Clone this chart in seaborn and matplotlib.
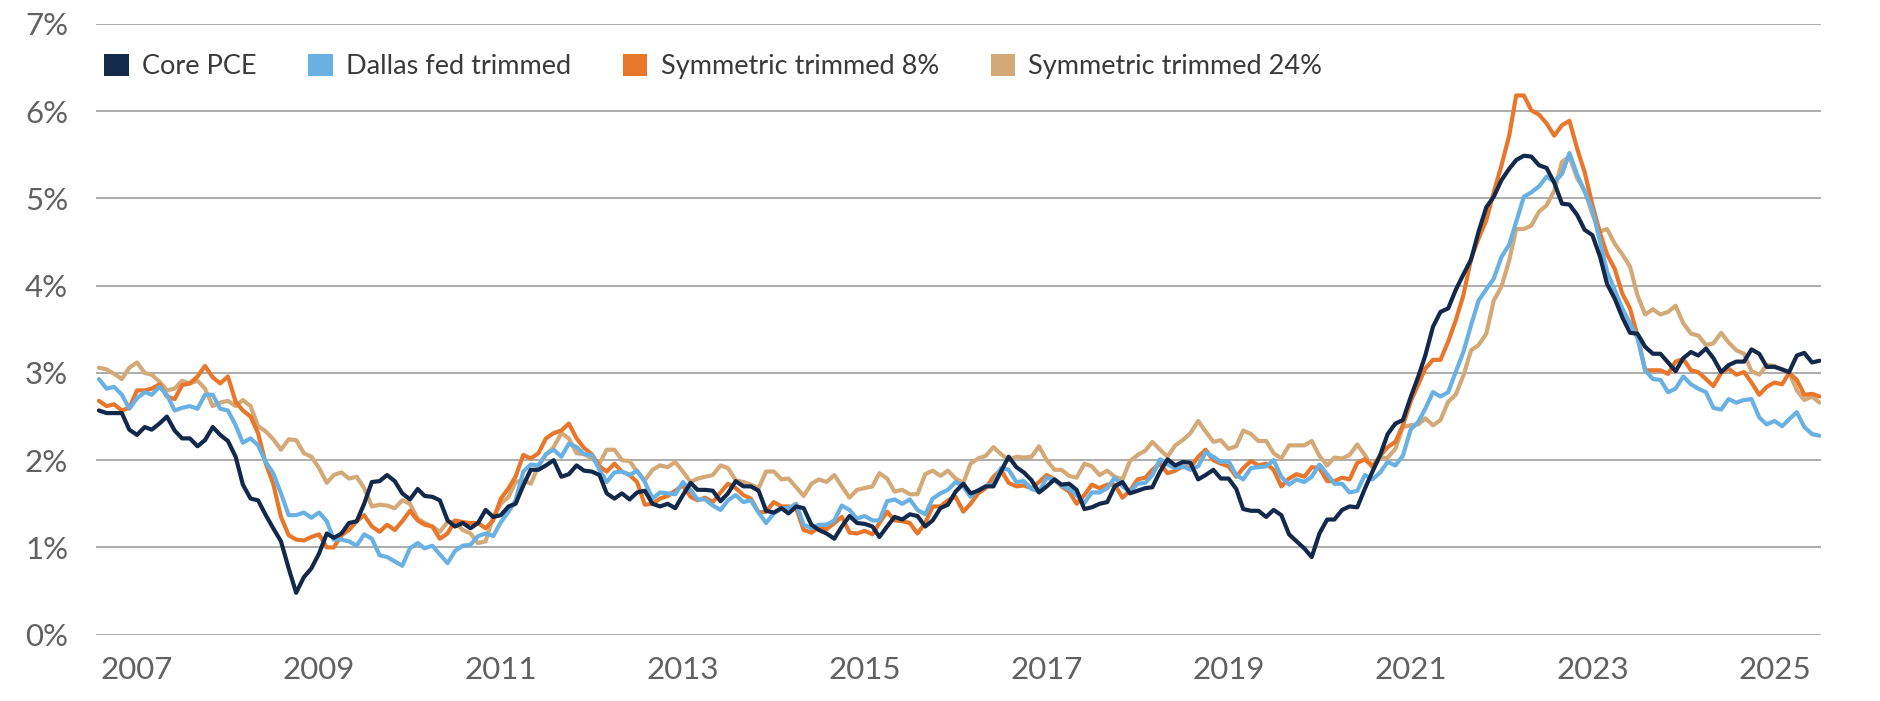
import numpy as np
import pandas as pd
import matplotlib
matplotlib.use("Agg")
import matplotlib.pyplot as plt
import seaborn as sns
from matplotlib.patches import Patch

# Monthly data, Aug 2006 .. Jul 2025 (values in %)
dates = pd.date_range("2006-08-01", periods=228, freq="MS")

core_pce = [
    2.57, 2.54, 2.54, 2.54, 2.35, 2.29, 2.38, 2.35, 2.42, 2.50, 2.34, 2.25, 2.25, 2.16, 2.23, 2.38, 2.29, 2.22, 2.04, 1.72,
    1.56, 1.54, 1.37, 1.22, 1.07, 0.76, 0.48, 0.66, 0.76, 0.93, 1.16, 1.11, 1.16, 1.28, 1.30, 1.50, 1.75, 1.76, 1.83, 1.76,
    1.62, 1.55,
    1.67, 1.59, 1.58, 1.54, 1.31, 1.24, 1.28, 1.22, 1.28, 1.43, 1.35, 1.37, 1.47, 1.50, 1.71, 1.89, 1.89, 1.94, 2.00, 1.81,
    1.84, 1.94, 1.88, 1.87, 1.83, 1.62, 1.56, 1.62, 1.55, 1.63, 1.65, 1.50, 1.47, 1.50, 1.45, 1.60, 1.74, 1.66, 1.66, 1.65,
    1.53, 1.62, 1.76, 1.70, 1.70, 1.65, 1.42, 1.40, 1.45, 1.39, 1.47, 1.45, 1.26, 1.20, 1.16, 1.10, 1.24, 1.36, 1.28, 1.27,
    1.24, 1.12, 1.24, 1.35, 1.32, 1.38, 1.36, 1.24, 1.31, 1.45, 1.49, 1.64, 1.73, 1.62, 1.65, 1.70, 1.70, 1.87, 2.04, 1.92,
    1.86, 1.77, 1.63, 1.70, 1.78, 1.72, 1.73, 1.66, 1.44, 1.46, 1.50, 1.52, 1.70, 1.75, 1.62, 1.65, 1.68, 1.69, 1.87, 2.01,
    1.94, 1.98, 1.97, 1.78, 1.83, 1.89, 1.79, 1.79, 1.67, 1.44, 1.42, 1.42, 1.35, 1.43, 1.37, 1.15, 1.07, 0.99, 0.89,
    1.16, 1.32, 1.32, 1.43, 1.47, 1.46, 1.67, 1.87, 2.06, 2.30, 2.42, 2.46, 2.72, 2.96, 3.20, 3.53, 3.70, 3.74, 3.95, 4.13,
    4.30, 4.62, 4.90, 5.02, 5.21, 5.34, 5.44, 5.49, 5.48, 5.38, 5.35, 5.18, 4.94, 4.93, 4.81,
    4.64, 4.58, 4.33, 4.02, 3.85, 3.64, 3.46, 3.45, 3.30, 3.22, 3.22, 3.12, 3.02, 3.17, 3.24, 3.20, 3.28, 3.17, 3.01, 3.09,
    3.13, 3.13, 3.27, 3.22, 3.07, 3.07, 3.04, 3.01, 3.20, 3.23, 3.12, 3.14,
]

dallas_trimmed = [
    2.93, 2.82, 2.84, 2.75, 2.59, 2.71, 2.78, 2.75, 2.84, 2.75, 2.57, 2.60, 2.62, 2.59, 2.75, 2.75, 2.59, 2.57, 2.40, 2.20,
    2.25, 2.17, 1.98, 1.85, 1.62, 1.37, 1.37, 1.40, 1.34, 1.40, 1.30, 1.09, 1.09, 1.07, 1.02, 1.15, 1.10, 0.91, 0.89, 0.84,
    0.79, 0.99,
    1.05, 0.99, 1.02, 0.92, 0.82, 0.96, 1.02, 1.03, 1.13, 1.16, 1.13, 1.29, 1.41, 1.54, 1.87, 1.95, 1.94, 2.07, 2.12, 2.04,
    2.19, 2.15, 2.07, 2.06, 1.89, 1.75, 1.86, 1.87, 1.83, 1.88, 1.75, 1.56, 1.63, 1.62, 1.61, 1.75, 1.66, 1.55, 1.55, 1.48,
    1.43, 1.54, 1.60, 1.52, 1.54, 1.40, 1.28, 1.39, 1.45, 1.45, 1.50, 1.26, 1.22, 1.26, 1.26, 1.31, 1.48, 1.43, 1.33, 1.36,
    1.31, 1.31, 1.53, 1.55, 1.50, 1.55, 1.43, 1.38, 1.56, 1.62, 1.66, 1.75, 1.70, 1.58, 1.66, 1.70, 1.73, 1.91, 1.89, 1.75,
    1.76, 1.67, 1.64, 1.80, 1.77, 1.71, 1.67, 1.60, 1.51, 1.63, 1.63, 1.68, 1.80, 1.70, 1.64, 1.73, 1.74, 1.83, 2.01, 1.95,
    1.91, 1.93, 1.89, 1.93, 2.09, 2.04, 1.98, 1.99, 1.83, 1.78, 1.91, 1.92, 1.93, 2.00, 1.81, 1.72, 1.78, 1.75, 1.81,
    1.95, 1.84, 1.73, 1.73, 1.63, 1.65, 1.83, 1.78, 1.86, 1.98, 1.94, 2.05, 2.35, 2.44, 2.59, 2.78, 2.73, 2.78, 3.01, 3.24,
    3.55, 3.83, 3.96, 4.08, 4.33, 4.47, 4.73, 5.02, 5.07, 5.14, 5.25, 5.19, 5.28, 5.52, 5.27,
    5.08, 4.87, 4.50, 4.16, 3.95, 3.74, 3.57, 3.40, 3.03, 2.93, 2.92, 2.78, 2.82, 2.96, 2.87, 2.82, 2.78, 2.60, 2.58, 2.70,
    2.66, 2.69, 2.70, 2.49, 2.41, 2.45, 2.39, 2.47, 2.55, 2.38, 2.30, 2.28,
]

symmetric_8 = [
    2.68, 2.62, 2.64, 2.57, 2.60, 2.80, 2.80, 2.82, 2.87, 2.73, 2.70, 2.86, 2.88, 2.96, 3.08, 2.95, 2.88, 2.96, 2.67, 2.57,
    2.50, 2.31, 1.96, 1.73, 1.35, 1.14, 1.09, 1.08, 1.12, 1.15, 1.00, 1.00, 1.14, 1.20, 1.30, 1.37, 1.24, 1.18, 1.26, 1.20,
    1.30, 1.42,
    1.31, 1.26, 1.24, 1.10, 1.16, 1.31, 1.29, 1.28, 1.28, 1.22, 1.31, 1.56, 1.68, 1.81, 2.06, 2.02, 2.08, 2.25, 2.31, 2.34,
    2.42, 2.25, 2.14, 2.07, 1.93, 1.87, 1.96, 1.87, 1.83, 1.75, 1.49, 1.50, 1.56, 1.59, 1.65, 1.71, 1.58, 1.54, 1.57, 1.52,
    1.63, 1.73, 1.68, 1.60, 1.56, 1.40, 1.41, 1.52, 1.47, 1.47, 1.45, 1.20, 1.17, 1.23, 1.21, 1.28, 1.35, 1.17, 1.16, 1.19,
    1.15, 1.28, 1.41, 1.31, 1.30, 1.28, 1.16, 1.28, 1.47, 1.47, 1.54, 1.58, 1.41, 1.50, 1.62, 1.68, 1.81, 1.89, 1.74, 1.70,
    1.71, 1.68, 1.75, 1.83, 1.78, 1.70, 1.64, 1.50, 1.60, 1.72, 1.68, 1.72, 1.72, 1.57, 1.65, 1.78, 1.80, 1.89, 1.96, 1.85,
    1.88, 1.93, 1.91, 2.04, 2.12, 2.00, 1.96, 1.93, 1.81, 1.91, 1.99, 1.94, 1.96, 1.89, 1.70, 1.79, 1.84, 1.81, 1.92,
    1.91, 1.76, 1.76, 1.80, 1.78, 1.97, 2.01, 1.93, 2.05, 2.15, 2.21, 2.40, 2.67, 2.87, 3.05, 3.15, 3.15, 3.36, 3.60, 3.89,
    4.31, 4.54, 4.75, 5.07, 5.38, 5.72, 6.18, 6.18, 6.01, 5.96, 5.86, 5.72, 5.84, 5.89, 5.57,
    5.30, 4.93, 4.60, 4.36, 4.19, 3.91, 3.74, 3.43, 3.03, 3.03, 3.03, 2.99, 3.13, 3.16, 3.03, 3.01, 2.93, 2.85, 3.00, 3.05,
    2.98, 3.01, 2.89, 2.75, 2.84, 2.89, 2.87, 3.00, 2.92, 2.75, 2.76, 2.73,
]

symmetric_24 = [
    3.06, 3.04, 2.99, 2.93, 3.06, 3.12, 3.00, 2.98, 2.90, 2.80, 2.82, 2.91, 2.88, 2.91, 2.82, 2.62, 2.66, 2.68, 2.62, 2.69,
    2.62, 2.39, 2.33, 2.24, 2.12, 2.24, 2.23, 2.08, 2.04, 1.91, 1.74, 1.83, 1.86, 1.79, 1.81, 1.68, 1.47, 1.49, 1.48, 1.45,
    1.54, 1.50,
    1.33, 1.28, 1.24, 1.18, 1.29, 1.29, 1.20, 1.16, 1.05, 1.07, 1.35, 1.50, 1.58, 1.75, 1.77, 1.73, 1.93, 2.06, 2.15, 2.31,
    2.25, 2.08, 2.07, 2.02, 1.96, 2.12, 2.12, 2.00, 1.99, 1.87, 1.77, 1.89, 1.94, 1.92, 1.98, 1.87, 1.75, 1.79, 1.81, 1.83,
    1.94, 1.91, 1.77, 1.75, 1.72, 1.68, 1.87, 1.87, 1.78, 1.79, 1.69, 1.59, 1.73, 1.78, 1.75, 1.83, 1.70, 1.57, 1.66, 1.68,
    1.70, 1.85, 1.79, 1.64, 1.66, 1.61, 1.61, 1.84, 1.88, 1.82, 1.88, 1.79, 1.74, 1.96, 2.02, 2.05, 2.15, 2.07, 2.00, 2.04,
    2.03, 2.04, 2.16, 2.00, 1.89, 1.89, 1.82, 1.80, 1.96, 1.93, 1.83, 1.88, 1.81, 1.78, 1.99, 2.06, 2.11, 2.21, 2.12, 2.04,
    2.17, 2.23, 2.31, 2.45, 2.33, 2.21, 2.23, 2.13, 2.16, 2.34, 2.30, 2.22, 2.22, 2.08, 2.02, 2.17, 2.17, 2.17, 2.22,
    2.05, 1.94, 2.03, 2.02, 2.06, 2.18, 2.06, 1.92, 2.02, 2.03, 2.13, 2.38, 2.40, 2.41, 2.48, 2.40, 2.46, 2.67, 2.75, 2.97,
    3.26, 3.32, 3.45, 3.83, 3.99, 4.29, 4.65, 4.65, 4.69, 4.85, 4.92, 5.09, 5.42, 5.48, 5.23,
    5.09, 4.82, 4.62, 4.65, 4.48, 4.36, 4.22, 3.89, 3.67, 3.73, 3.67, 3.70, 3.77, 3.57, 3.45, 3.43, 3.32, 3.34, 3.46, 3.35,
    3.26, 3.22, 3.02, 2.98, 3.09, 3.08, 3.04, 3.01, 2.80, 2.69, 2.73, 2.66,
]

series_names = ["Core PCE", "Dallas fed trimmed", "Symmetric trimmed 8%", "Symmetric trimmed 24%"]
series_colors = ["#12294b", "#69b1e3", "#e8762b", "#d4a978"]
y_ticks = [0, 1, 2, 3, 4, 5, 6, 7]
x_tick_years = [2007, 2009, 2011, 2013, 2015, 2017, 2019, 2021, 2023, 2025]

df = pd.concat([
    pd.DataFrame({"date": dates, "value": vals, "series": name})
    for name, vals in zip(series_names, [core_pce, dallas_trimmed, symmetric_8, symmetric_24])
], ignore_index=True)

sns.set_theme(style="white")
plt.rcParams["font.family"] = ["Lato", "DejaVu Sans"]

fig = plt.figure(figsize=(18.81, 7.01), dpi=100)
ax = fig.add_axes([0.0510, 0.0946, 0.9171, 0.8712])

palette = dict(zip(series_names, series_colors))
# draw so Core PCE ends up on top
for name in series_names[::-1]:
    sns.lineplot(data=df[df["series"] == name], x="date", y="value", color=palette[name],
                 linewidth=3.0, ax=ax, legend=False)

ax.set_ylim(0, 7)
ax.set_xlim(dates[0] - pd.Timedelta(days=12), dates[-1] + pd.Timedelta(days=6))
ax.set_yticks(y_ticks)
ax.set_yticklabels([f"{t}%" for t in y_ticks])
ax.set_xticks([pd.Timestamp(f"{y}-01-01") for y in x_tick_years])
ax.set_xticklabels([str(y) for y in x_tick_years])
ax.set_xlabel("")
ax.set_ylabel("")
ax.grid(axis="y", color="#a6a6a6", linewidth=1.3)
ax.set_axisbelow(True)
for s in ax.spines.values():
    s.set_visible(False)
ax.tick_params(axis="both", length=0, labelsize=22.5, labelcolor="#616161")
ax.tick_params(axis="x", pad=15)
ax.tick_params(axis="y", pad=20)

handles = [Patch(facecolor=c, edgecolor="none") for c in series_colors]
leg = ax.legend(handles, series_names, ncol=4, loc="upper left", bbox_to_anchor=(-0.0045, 0.978),
                frameon=False, fontsize=19.5, handlelength=0.9, handleheight=0.9,
                handletextpad=0.5, columnspacing=1.9, borderaxespad=0.2)
for t in leg.get_texts():
    t.set_color("#3a3a3a")

fig.savefig("out.png", dpi=100)
